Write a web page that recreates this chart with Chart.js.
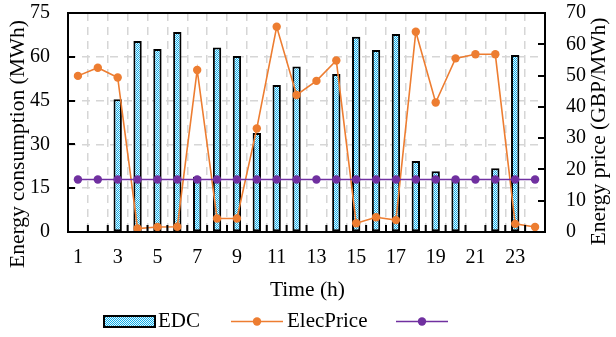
<!DOCTYPE html>
<html><head><meta charset="utf-8">
<script src="https://cdn.jsdelivr.net/npm/chart.js@4"></script>
<style>html,body{margin:0;padding:0;background:#fff}#wrap{width:616px;height:337px}</style>
</head><body><div id="wrap"><canvas id="c" width="616" height="337"></canvas></div>
<script>
const hours = ['1','2','3','4','5','6','7','8','9','10','11','12','13','14','15','16','17','18','19','20','21','22','23','24'];
const edc = [0,0,45.5,65.4,62.7,68.5,18.9,63.2,60.3,33.9,50.3,56.7,0,54.1,66.9,62.3,67.8,24.3,20.8,18.1,0,21.8,60.6,0];
const elecPrice = [49.9,52.5,49.4,1.1,1.6,1.7,51.8,4.3,4.3,33.1,65.6,43.8,48.3,54.8,2.8,4.7,3.8,64.0,41.4,55.5,56.8,56.8,2.6,1.6];
const flatLine = [18,18,18,18,18,18,18,18,18,18,18,18,18,18,18,18,18,18,18,18,18,18,18,18];
const leftTicks = [0,15,30,45,60,75];
const rightTicks = [0,10,20,30,40,50,60,70];
const seriesNames = ['EDC','ElecPrice',''];
const axisTitles = {x:'Time (h)', left:'Energy consumption (MWh)', right:'Energy price (GBP/MWh)'};

const FONT = '"Liberation Serif", "Times New Roman", serif';
const ORANGE = '#ED7D31', PURPLE = '#7030A0';
const canvas = document.getElementById('c');
const mainCtx = canvas.getContext('2d');
function makePattern(){
  const p = document.createElement('canvas'); p.width = 2; p.height = 2;
  const g = p.getContext('2d');
  g.fillStyle = '#e6f7fd'; g.fillRect(0,0,2,2);
  g.fillStyle = '#12aeea'; g.fillRect(0,0,1,1); g.fillRect(1,1,1,1);
  return mainCtx.createPattern(p,'repeat');
}
const pattern = makePattern();

const decor = {
  id:'decor',
  afterDatasetsDraw(chart){
    const {ctx, chartArea:a, scales:{x,y,y1}} = chart;
    ctx.save();
    ctx.strokeStyle = '#000'; ctx.lineWidth = 2;
    ctx.beginPath();
    leftTicks.forEach(v=>{const py=Math.round(y.getPixelForValue(v)); ctx.moveTo(a.left,py); ctx.lineTo(a.left+7,py);});
    rightTicks.forEach(v=>{const py=Math.round(y1.getPixelForValue(v)); ctx.moveTo(a.right,py); ctx.lineTo(a.right-7,py);});
    for(let i=1;i<hours.length;i++){const px=(x.getPixelForValue(i-1)+x.getPixelForValue(i))/2; ctx.moveTo(px,a.bottom); ctx.lineTo(px,a.bottom-7);}
    ctx.stroke();
    ctx.strokeRect(a.left,a.top,a.right-a.left,a.bottom-a.top);
    ctx.restore();
  },
  afterDraw(chart){
    const ctx = chart.ctx;
    ctx.save();
    ctx.fillStyle = '#000';
    ctx.font = '21.5px ' + FONT;
    ctx.textAlign = 'center'; ctx.textBaseline = 'alphabetic';
    ctx.fillText(axisTitles.x, 307.5, 296);
    ctx.save(); ctx.translate(23.5,144); ctx.rotate(-Math.PI/2); ctx.fillText(axisTitles.left,0,0); ctx.restore();
    ctx.save(); ctx.translate(604.5,131.5); ctx.rotate(-Math.PI/2); ctx.fillText(axisTitles.right,0,0); ctx.restore();
    // legend
    const ly = 321.5;
    ctx.font = '21px ' + FONT; ctx.textAlign = 'left'; ctx.textBaseline = 'middle';
    ctx.fillStyle = pattern; ctx.fillRect(104,316,51,11);
    ctx.strokeStyle = '#000'; ctx.lineWidth = 2; ctx.strokeRect(104,316,51,11);
    ctx.fillStyle = '#000'; ctx.fillText(seriesNames[0], 158, ly);
    [[231,ORANGE,seriesNames[1]],[396,PURPLE,seriesNames[2]]].forEach(([x0,col,t])=>{
      ctx.strokeStyle = col; ctx.lineWidth = 1.6;
      ctx.beginPath(); ctx.moveTo(x0,ly); ctx.lineTo(x0+52,ly); ctx.stroke();
      ctx.fillStyle = col; ctx.beginPath(); ctx.arc(x0+26,ly,4.2,0,Math.PI*2); ctx.fill();
      ctx.fillStyle = '#000'; ctx.fillText(t, x0+56, ly);
    });
    ctx.restore();
  }
};

new Chart(canvas, {
  data:{
    labels: hours,
    datasets:[
      {type:'bar', label:seriesNames[0], data:edc, yAxisID:'y', backgroundColor:pattern, borderColor:'#000', borderWidth:2, borderSkipped:false, categoryPercentage:1, barPercentage:0.42, order:3},
      {type:'line', label:seriesNames[1], data:elecPrice, yAxisID:'y1', borderColor:ORANGE, backgroundColor:ORANGE, borderWidth:1.6, pointRadius:4.2, pointBorderWidth:0, pointBackgroundColor:ORANGE, tension:0, order:2},
      {type:'line', label:seriesNames[2], data:flatLine, yAxisID:'y', borderColor:PURPLE, backgroundColor:PURPLE, borderWidth:1.6, pointRadius:4.2, pointBorderWidth:0, pointBackgroundColor:PURPLE, tension:0, order:1}
    ]
  },
  options:{
    responsive:false, animation:false, devicePixelRatio:1,
    layout:{padding:{top:13,left:0,right:0,bottom:0}},
    plugins:{legend:{display:false}, tooltip:{enabled:false}},
    scales:{
      x:{
        offset:true,
        grid:{offset:true, color:'#d6d6d6', lineWidth:1.5, drawTicks:false},
        border:{display:false, dash:[8,6]},
        ticks:{autoSkip:false, maxRotation:0, padding:14, color:'#000', font:{family:FONT, size:20},
          callback:(v,i)=> i%2===0 ? hours[i] : ''},
        afterFit:s=>{s.height=105; s.paddingLeft=0; s.paddingRight=0;}
      },
      y:{
        position:'left', min:0, max:75,
        afterBuildTicks:s=>{s.ticks = leftTicks.map(v=>({value:v}));},
        grid:{color:'#d6d6d6', lineWidth:1.5, drawTicks:false},
        border:{display:false, dash:[8,6]},
        ticks:{padding:18, color:'#000', font:{family:FONT, size:20}},
        afterFit:s=>{s.width=68; s.paddingTop=0; s.paddingBottom=0;}
      },
      y1:{
        position:'right', min:0, max:70,
        afterBuildTicks:s=>{s.ticks = rightTicks.map(v=>({value:v}));},
        grid:{drawOnChartArea:false, drawTicks:false},
        border:{display:false},
        ticks:{padding:21, color:'#000', font:{family:FONT, size:20}},
        afterFit:s=>{s.width=71; s.paddingTop=0; s.paddingBottom=0;}
      }
    }
  },
  plugins:[decor]
});
</script></body></html>
